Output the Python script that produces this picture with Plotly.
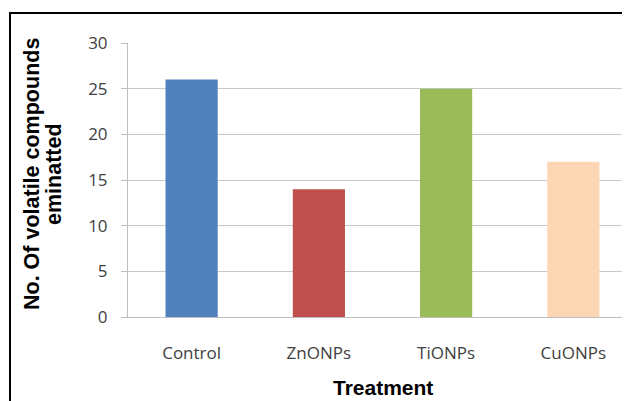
import plotly.graph_objects as go

categories = ["Control", "ZnONPs", "TiONPs", "CuONPs"]
values = [26, 14, 25, 17]
colors = ["#4F81BD", "#C0504D", "#9BBB59", "#FCD5B5"]
y_ticks = [0, 5, 10, 15, 20, 25, 30]

fig = go.Figure(go.Bar(x=categories, y=values, marker=dict(color=colors, line=dict(width=0)), width=0.41))

OFF = 8  # page body margin
W, H = 630, 401
ml, mr, mt, mb = 128 - OFF, OFF, 43 - OFF, H - (317 - OFF)
pw = W - ml - mr
ph = H - mt - mb

def px_x(p):
    return (p - OFF - ml) / pw

def px_y(p):
    return (H - mb - (p - OFF)) / ph

title_font = dict(family="Liberation Sans, Arial, sans-serif", size=21.5, color="black")

fig.update_layout(
    width=W, height=H,
    margin=dict(l=ml, r=mr, t=mt, b=mb, pad=0),
    paper_bgcolor="white", plot_bgcolor="white",
    showlegend=False,
    font=dict(family="Open Sans, Liberation Sans, sans-serif", color="#404040", size=17),
    xaxis=dict(
        type="category", range=[-0.5, 3.445],
        showline=True, linecolor="#BEBEBE", linewidth=1,
        ticks="", showgrid=False, tickfont=dict(size=17, color="#404040"),
        ticklabelstandoff=21,
    ),
    yaxis=dict(
        range=[0, 30], tickvals=y_ticks, ticktext=[str(v) for v in y_ticks],
        showline=True, linecolor="#BEBEBE", linewidth=1,
        showgrid=True, gridcolor="#C8C8C8", gridwidth=1,
        ticks="outside", ticklen=6, tickcolor="#BEBEBE",
        tickfont=dict(size=17, color="#404040"), zeroline=False,
        ticklabelstandoff=10,
    ),
    shapes=[
        dict(type="rect", xref="paper", yref="paper",
             x0=px_x(10), x1=px_x(700), y0=px_y(500), y1=px_y(13),
             line=dict(color="black", width=2), fillcolor="rgba(0,0,0,0)", layer="above"),
    ],
    annotations=[
        dict(text="<b>Treatment</b>", xref="paper", yref="paper",
             x=px_x(383), y=px_y(387), xanchor="center", yanchor="middle", showarrow=False,
             font=dict(family="Liberation Sans, Arial, sans-serif", size=21, color="black")),
        dict(text="<b>No. Of volatile compounds</b>", xref="paper", yref="paper",
             x=px_x(32), y=px_y(174), xanchor="center", yanchor="middle",
             showarrow=False, textangle=-90, font=title_font),
        dict(text="<b>eminatted</b>", xref="paper", yref="paper",
             x=px_x(54), y=px_y(174), xanchor="center", yanchor="middle",
             showarrow=False, textangle=-90, font=title_font),
    ],
)

fig.write_html("out.html")
